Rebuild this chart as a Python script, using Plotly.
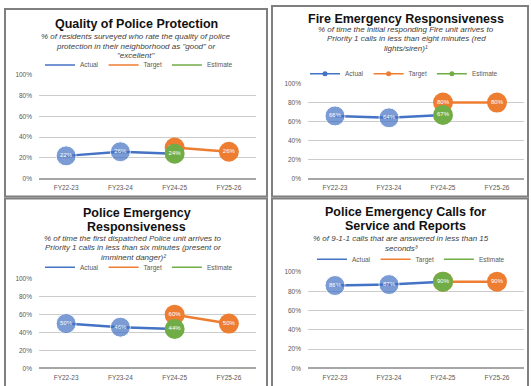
import plotly.graph_objects as go

W, H = 531, 386

fiscal_years = ["FY22-23", "FY23-24", "FY24-25", "FY25-26"]

# Quality of Police Protection
quality_actual = [22, 26]
quality_target = [30, 26]
quality_estimate = [24]

# Fire Emergency Responsiveness
fire_actual = [66, 64]
fire_target = [80, 80]
fire_estimate = [67]

# Police Emergency Responsiveness
police_actual = [50, 46]
police_target = [60, 50]
police_estimate = [44]

# Police Emergency Calls for Service and Reports
calls_actual = [86, 87]
calls_target = [90, 90]
calls_estimate = [90]

BLUE, ORANGE, GREEN = "#4472C4", "#ED7D31", "#70AD47"
FONT = "Arial, Liberation Sans, sans-serif"


def px(x):
    return x / W


def py(y):
    return 1 - y / H


panels = [
    dict(
        title=["Quality of Police Protection"], title_y=[20], title_x=136,
        sub=['% of residents surveyed who rate the quality of police',
             'protection in their neighborhood as "good" or',
             '"excellent"'],
        sub_y=[33, 43, 52], sub_x=136,
        legend_y=62, legend_x=139, legend_markers=False,
        xdom=(39, 256), ydom=(72, 178),
        actual=quality_actual, target=quality_target, estimate=quality_estimate,
        box=(5, 5, 267, 196),
    ),
    dict(
        title=["Fire Emergency Responsiveness"], title_y=[15], title_x=406,
        sub=["% of time the initial responding Fire unit arrives to",
             "Priority 1 calls in less than eight minutes (red",
             "lights/siren)¹"],
        sub_y=[26, 35.5, 45], sub_x=406,
        legend_y=71, legend_x=404, legend_markers=True,
        xdom=(308, 524), ydom=(81, 178),
        actual=fire_actual, target=fire_target, estimate=fire_estimate,
        box=(272, 2, 528, 196),
    ),
    dict(
        title=["Police Emergency", "Responsiveness"], title_y=[213, 227], title_x=137,
        sub=["% of time the first dispatched Police unit arrives to",
             "Priority 1 calls in less than six minutes (present or",
             "imminent danger)²"],
        sub_y=[239, 248.5, 258], sub_x=133,
        legend_y=268, legend_x=139, legend_markers=False,
        xdom=(39, 256), ydom=(280, 371),
        actual=police_actual, target=police_target, estimate=police_estimate,
        box=(5, 198, 267, 392),
    ),
    dict(
        title=["Police Emergency Calls for", "Service and Reports"], title_y=[212, 226], title_x=405,
        sub=["% of 9-1-1 calls that are answered in less than 15",
             "seconds³"],
        sub_y=[239, 249], sub_x=401,
        legend_y=260, legend_x=411, legend_markers=False,
        xdom=(308, 524), ydom=(273, 371),
        actual=calls_actual, target=calls_target, estimate=calls_estimate,
        box=(272, 198, 528, 392),
    ),
]

fig = go.Figure()
annotations = []
shapes = []
layout_axes = {}

for i, p in enumerate(panels, start=1):
    sfx = "" if i == 1 else str(i)
    xa, ya = "x" + sfx, "y" + sfx
    leg = "legend" + sfx

    # Actual series runs into the FY24-25 estimate point
    act_x = fiscal_years[:len(p["actual"])] + [fiscal_years[2]]
    act_y = p["actual"] + p["estimate"]
    fig.add_trace(go.Scatter(
        x=act_x, y=act_y, mode="lines+markers+text",
        line=dict(color=BLUE, width=2.5),
        marker=dict(color=BLUE, size=[20] * len(p["actual"]) + [0]),
        text=[f"{v}%" for v in p["actual"]] + [""],
        textposition="middle center",
        textfont=dict(color="white", size=6, family=FONT),
        xaxis=xa, yaxis=ya, showlegend=False, cliponaxis=False,
    ))
    fig.add_trace(go.Scatter(
        x=fiscal_years[2:], y=p["target"], mode="lines+markers+text",
        line=dict(color=ORANGE, width=2.5),
        marker=dict(color=ORANGE, size=20),
        text=[f"{v}%" for v in p["target"]],
        textposition="middle center",
        textfont=dict(color="white", size=6, family=FONT),
        xaxis=xa, yaxis=ya, showlegend=False, cliponaxis=False,
    ))
    fig.add_trace(go.Scatter(
        x=fiscal_years[2:3], y=p["estimate"], mode="markers+text",
        marker=dict(color=GREEN, size=20),
        text=[f"{v}%" for v in p["estimate"]],
        textposition="middle center",
        textfont=dict(color="white", size=6, family=FONT),
        xaxis=xa, yaxis=ya, showlegend=False, cliponaxis=False,
    ))

    # legend keys
    for name, col in (("Actual", BLUE), ("Target", ORANGE), ("Estimate", GREEN)):
        fig.add_trace(go.Scatter(
            x=[None], y=[None],
            mode="lines+markers" if p["legend_markers"] else "lines",
            name=name, line=dict(color=col, width=1.5),
            marker=dict(color=col, size=5),
            xaxis=xa, yaxis=ya, legend=leg, showlegend=True,
        ))

    layout_axes[leg] = dict(
        orientation="h", x=px(p["legend_x"]), y=py(p["legend_y"]),
        xanchor="center", yanchor="middle",
        font=dict(size=6.5, color="#595959", family=FONT),
        bgcolor="rgba(0,0,0,0)", itemwidth=30,
    )

    layout_axes["xaxis" + sfx] = dict(
        domain=[px(p["xdom"][0]), px(p["xdom"][1])],
        anchor=ya, type="category",
        categoryorder="array", categoryarray=fiscal_years,
        range=[-0.5, 3.5], showgrid=False, zeroline=False,
        showline=False, ticks="", fixedrange=True,
        tickfont=dict(size=6.5, color="#595959", family=FONT),
        ticklabelstandoff=4,
    )
    layout_axes["yaxis" + sfx] = dict(
        domain=[py(p["ydom"][1]), py(p["ydom"][0])],
        anchor=xa, range=[0, 100], dtick=20, ticksuffix="%",
        showgrid=True, gridcolor="#cccccc", gridwidth=1.2,
        zeroline=True, zerolinecolor="#a6a6a6", zerolinewidth=1.5,
        showline=False, ticks="", fixedrange=True,
        tickfont=dict(size=6.5, color="#595959", family=FONT),
        ticklabelstandoff=6,
    )

    for line, ty in zip(p["title"], p["title_y"]):
        annotations.append(dict(
            text=line, x=px(p["title_x"]), y=py(ty), xref="paper", yref="paper",
            xanchor="center", yanchor="middle", showarrow=False,
            font=dict(size=12.5, color="#111111", family=FONT, weight="bold"),
        ))
    for line, sy in zip(p["sub"], p["sub_y"]):
        annotations.append(dict(
            text=f"<i>{line}</i>", x=px(p["sub_x"]), y=py(sy), xref="paper", yref="paper",
            xanchor="center", yanchor="middle", showarrow=False,
            font=dict(size=8, color="#404040", family=FONT),
        ))

    x0, y0, x1, y1 = p["box"]
    shapes.append(dict(
        type="rect", xref="paper", yref="paper",
        x0=px(x0), x1=px(x1), y0=py(y1), y1=py(y0),
        line=dict(color="#7f7f7f", width=2), fillcolor="rgba(0,0,0,0)",
    ))

fig.update_layout(
    width=W, height=H, margin=dict(l=0, r=0, t=0, b=0),
    paper_bgcolor="white", plot_bgcolor="white",
    font=dict(family=FONT),
    annotations=annotations, shapes=shapes,
    **layout_axes,
)

fig.write_html("out.html", config={"displayModeBar": False})
